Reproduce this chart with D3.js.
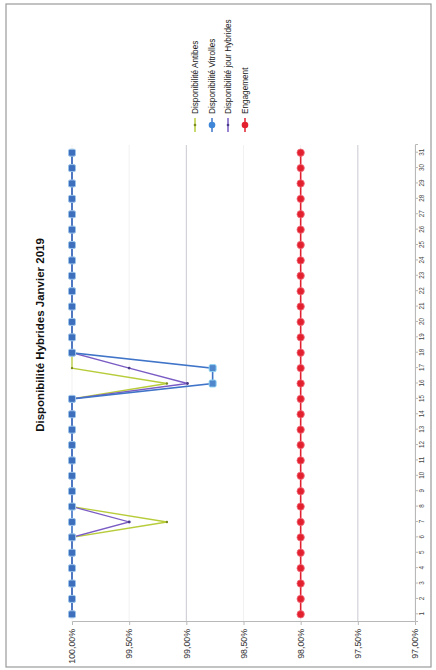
<!DOCTYPE html>
<html><head><meta charset="utf-8">
<script src="https://cdn.jsdelivr.net/npm/d3@7"></script>
<style>
html,body{margin:0;padding:0;background:#fff;}
svg{display:block;font-family:"Liberation Sans",Arial,sans-serif;}
</style></head>
<body>
<svg id="c" width="436" height="670"></svg>
<script>
const title = "Disponibilité Hybrides Janvier 2019";
const days = [1,2,3,4,5,6,7,8,9,10,11,12,13,14,15,16,17,18,19,20,21,22,23,24,25,26,27,28,29,30,31];
const seriesNames = ["Disponibilité Antibes","Disponibilité Vitrolles","Disponibilité jour Hybrides","Engagement"];
const antibes    = [100,100,100,100,100,100,99.17,100,100,100,100,100,100,100,100,99.17,100,100,100,100,100,100,100,100,100,100,100,100,100,100,100];
const vitrolles  = [100,100,100,100,100,100,100,100,100,100,100,100,100,100,100,98.77,98.77,100,100,100,100,100,100,100,100,100,100,100,100,100,100];
const jourHyb    = [100,100,100,100,100,100,99.5,100,100,100,100,100,100,100,100,98.99,99.5,100,100,100,100,100,100,100,100,100,100,100,100,100,100];
const engagement = [98,98,98,98,98,98,98,98,98,98,98,98,98,98,98,98,98,98,98,98,98,98,98,98,98,98,98,98,98,98,98];
const valueTicks = [100,99.5,99,98.5,98,97.5,97];
const gridVisible = [99,97.5];

const svg = d3.select("#c");
svg.append("rect").attr("x",6).attr("y",4).attr("width",425).attr("height",663)
  .attr("fill","none").attr("stroke","#9a9a9a").attr("stroke-width",1.2);

const g = svg.append("g").attr("transform","translate(0,670) rotate(-90)");

const x = d3.scalePoint().domain(days).range([48,525]).padding(0.5);
const y = d3.scaleLinear().domain([97,100]).range([415,72]);
const fmt = v => d3.format(".2f")(v).replace(".",",") + "%";

g.append("g").selectAll("line").data(valueTicks).join("line")
  .attr("x1",48).attr("x2",525).attr("y1",d=>y(d)).attr("y2",d=>y(d))
  .attr("stroke",d=>gridVisible.includes(d)?"#c9c9d2":"#f1f1f1").attr("stroke-width",1);

const ay = g.append("g").attr("transform","translate(48,0)")
  .call(d3.axisLeft(y).tickValues(valueTicks).tickFormat(fmt).tickSize(3).tickPadding(4));
ay.select(".domain").attr("stroke","#b8b8b8");
ay.selectAll(".tick line").attr("stroke","#b8b8b8");
ay.selectAll("text").attr("font-size",8.8).attr("fill","#333");

const ax = g.append("g").attr("transform","translate(0,415)")
  .call(d3.axisBottom(x).tickSize(3).tickPadding(2));
ax.select(".domain").attr("stroke","#b8b8b8");
ax.selectAll(".tick line").attr("stroke","#b8b8b8");
ax.selectAll("text").attr("font-size",6.3).attr("fill","#444");

const line = d3.line().x((d,i)=>x(days[i])).y(d=>y(d));
const colors = ["#b8cc3a","#3f74c8","#7a5cc4","#e02030"];

function drawLine(data,color,w){
  g.append("path").datum(data).attr("d",line).attr("fill","none")
    .attr("stroke",color).attr("stroke-width",w);
}
drawLine(antibes,colors[0],1.3);
g.append("g").selectAll("circle").data(antibes).join("circle")
  .attr("cx",(d,i)=>x(days[i])).attr("cy",d=>y(d)).attr("r",1.2).attr("fill","#7a8a20");
drawLine(jourHyb,colors[2],1.3);
g.append("g").selectAll("circle").data(jourHyb).join("circle")
  .attr("cx",(d,i)=>x(days[i])).attr("cy",d=>y(d)).attr("r",1.4).attr("fill","#4a3a8a");
drawLine(vitrolles,colors[1],1.6);
g.append("g").selectAll("rect").data(vitrolles).join("rect")
  .attr("x",(d,i)=>x(days[i])-3.5).attr("y",d=>y(d)-3.5).attr("width",7).attr("height",7).attr("rx",1.5)
  .attr("fill",d=>d<100?"#4f86cc":"#3d6fbd").attr("stroke",d=>d<100?"#8fd3f2":"#9cc4ea").attr("stroke-width",1);
drawLine(engagement,colors[3],1.6);
g.append("g").selectAll("circle").data(engagement).join("circle")
  .attr("cx",(d,i)=>x(days[i])).attr("cy",d=>y(d)).attr("r",3.7).attr("fill","#e3202e").attr("stroke","#f07080").attr("stroke-width",0.8);

g.append("text").attr("x",335).attr("y",44).attr("text-anchor","middle")
  .attr("font-size",11.5).attr("font-weight","bold").attr("fill","#111").text(title);

const legY = [195,212,228,245];
const lg = g.append("g");
seriesNames.forEach((n,i)=>{
  const row = lg.append("g").attr("transform",`translate(0,${legY[i]})`);
  row.append("line").attr("x1",538).attr("x2",552).attr("y1",0).attr("y2",0)
    .attr("stroke",colors[i]).attr("stroke-width",1.5);
  if(i===1||i===3){
    row.append("circle").attr("cx",545).attr("cy",0).attr("r",3.3).attr("fill",i===1?"#3f86d8":"#e3202e");
  } else {
    row.append("circle").attr("cx",545).attr("cy",0).attr("r",1.3).attr("fill",i===0?"#7a8a20":"#4a3a8a");
  }
  row.append("text").attr("x",556).attr("y",0).attr("dy","0.35em").attr("font-size",8.2).attr("fill","#222").text(n);
});
</script>
</body></html>
